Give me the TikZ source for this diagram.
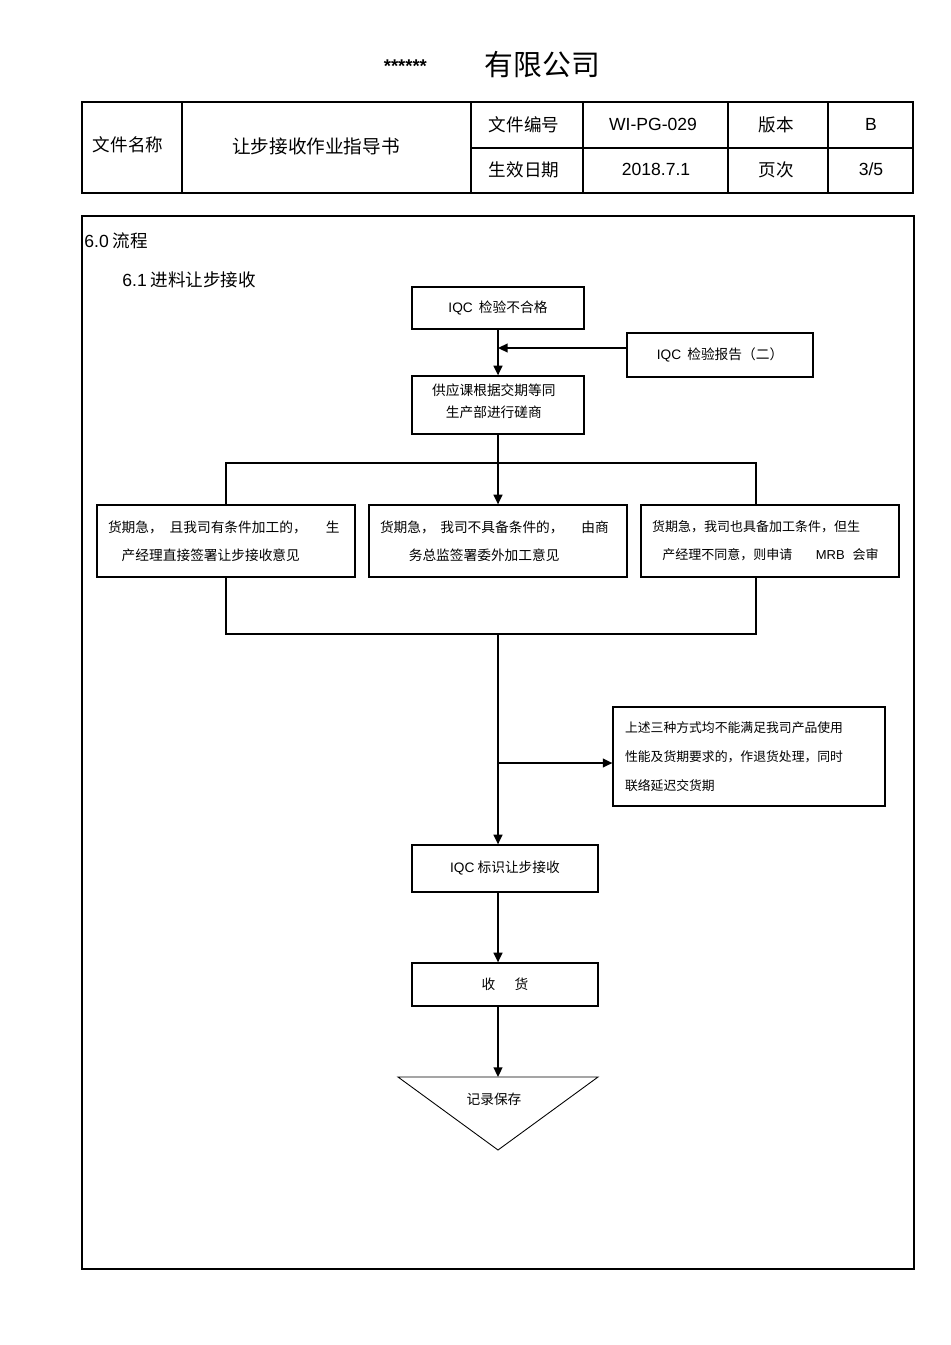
\documentclass[tikz,border=0pt]{standalone}
\usepackage{fontspec}
\setmainfont{Noto Sans CJK SC}
\newfontfamily\latfont{Liberation Sans}
\usepackage{tikz}
\usetikzlibrary{arrows.meta, positioning, calc}

\begin{document}
\begin{tikzpicture}[x=0.02cm, y=-0.02cm,
    box/.style 2 args={draw, line width=0.7pt, minimum width=#1, minimum height=#2, inner sep=0pt, align=center, font=\fontsize{7.8}{15.9}\selectfont},
    opt/.style={draw, line width=0.7pt, text width=4.72cm, inner xsep=0.22cm, inner ysep=0pt, minimum height=1.44cm, align=left, font=\fontsize{7.8}{15.9}\selectfont},
    hdr/.style={inner sep=0pt, font=\fontsize{10}{12}\selectfont},
    link/.style={line width=1pt},
    arr/.style={link, -{Triangle[length=5.5pt, width=5pt]}},
]
    \useasboundingbox (0,0) rectangle (950,1345);

    % page head
    \node[inner sep=0pt] (title) at (492,65) {\raisebox{2pt}{\fontsize{10.5}{10}\latfont\bfseries ******}\hspace{33pt}{\fontsize{16.4}{18}\selectfont 有限公司}};

    \draw[line width=1.6pt] (82,102) rectangle (913,193);
    \draw[line width=0.7pt] (182,102) -- (182,193) (471,102) -- (471,193) (583,102) -- (583,193)
        (728,102) -- (728,193) (828,102) -- (828,193) (471,148) -- (913,148);
    \node[hdr] (fname) at (128,145) {文件名称};
    \node[hdr, font=\fontsize{10.6}{12}\selectfont] (doc) at (316,146) {让步接收作业指导书};
    \node[hdr] (fno) at (524,125) {文件编号};
    \node[hdr, font=\fontsize{10}{12}\latfont] (no) at (653,124) {WI-PG-029};
    \node[hdr] (ver) at (776,125) {版本};
    \node[hdr, font=\fontsize{10}{12}\latfont] (vno) at (871,124) {B};
    \node[hdr] (fdate) at (524,170) {生效日期};
    \node[hdr, font=\fontsize{10}{12}\latfont] (date) at (656,169) {2018.7.1};
    \node[hdr] (pg) at (776,170) {页次};
    \node[hdr, font=\fontsize{10}{12}\latfont] (pno) at (871,169) {3/5};

    % frame
    \draw[line width=1.6pt] (82,216) rectangle (914,1269);
    \node[hdr, anchor=west] (sec) at (84,241) {{\latfont 6.0} 流程};
    \node[hdr, anchor=west] (sub) at (122,280) {{\latfont 6.1} 进料让步接收};

    % flow
    \node[box={3.44cm}{0.84cm}] (q1) at (498,308) {{\latfont IQC}\ \ 检验不合格};
    \node[box={3.72cm}{0.88cm}] (rpt) at (720,355) {{\latfont IQC}\ \ 检验报告（二）};
    \node[box={3.44cm}{1.16cm}, font=\fontsize{7.8}{12.8}\selectfont] (neg) at (498,405) {供应课根据交期等同\hspace*{0.6em}\\生产部进行磋商\hspace*{0.6em}\rule[-5pt]{0pt}{5pt}};

    \node[opt] (a) at (226,541) {货期急，\hspace{0.5em}且我司有条件加工的，\hspace{1.4em}生\\\hspace*{1em}产经理直接签署让步接收意见};
    \node[opt] (b) at (498,541) {货期急，\hspace{0.4em}我司不具备条件的，\hspace{1.3em}由商\\\hspace*{2.1em}务总监签署委外加工意见};
    \node[opt, font=\fontsize{7.4}{15.9}\selectfont] (c) at (770,541) {货期急，我司也具备加工条件，但生\\\hspace*{0.8em}产经理不同意，则申请\hspace{1.8em}{\latfont MRB}\hspace{0.6em}会审};

    \node[draw, line width=0.7pt, text width=4.96cm, inner xsep=0.24cm, inner ysep=0pt, minimum height=1.98cm, align=left, font=\fontsize{7.3}{16.4}\selectfont] (ret) at (749,756.5) {上述三种方式均不能满足我司产品使用\\性能及货期要求的，作退货处理，同时\\联络延迟交货期};

    \node[box={3.72cm}{0.94cm}] (mark) at (505,868.5) {{\latfont IQC}\ 标识让步接收};
    \node[box={3.72cm}{0.86cm}] (recv) at (505,984.5) {收\hspace{1.4em}货};

    \draw[line width=0.5pt] (398,1077) -- (598,1077) -- (498,1150) -- cycle;
    \node[inner sep=0pt, font=\fontsize{7.8}{10}\selectfont] (keep) at (494,1099) {记录保存};

    \coordinate (m1) at (498,348);
    \coordinate (s1) at (498,463);
    \coordinate (s2) at (498,634);
    \coordinate (s3) at (498,763);
    \coordinate (cu) at (756,463);
    \coordinate (cd) at (756,634);
    \coordinate (rec) at (498,1077);

    \draw[arr] (q1.south -| m1) -- (neg.north -| m1);
    \draw[arr] (rpt.west |- m1) -- (m1);
    \draw[link] (neg.south -| s1) -- (s1);
    \draw[link] (a.north) |- (cu) -- (cu |- c.north);
    \draw[arr] (s1) -- (b.north);
    \draw[link] (a.south) |- (cd) -- (cd |- c.south);
    \draw[arr] (s2) -- (s2 |- mark.north);
    \draw[arr] (s3) -- (s3 -| ret.west);
    \draw[arr] (mark.south -| s2) -- (recv.north -| s2);
    \draw[arr] (recv.south -| s2) -- (rec);
\end{tikzpicture}
\end{document}
